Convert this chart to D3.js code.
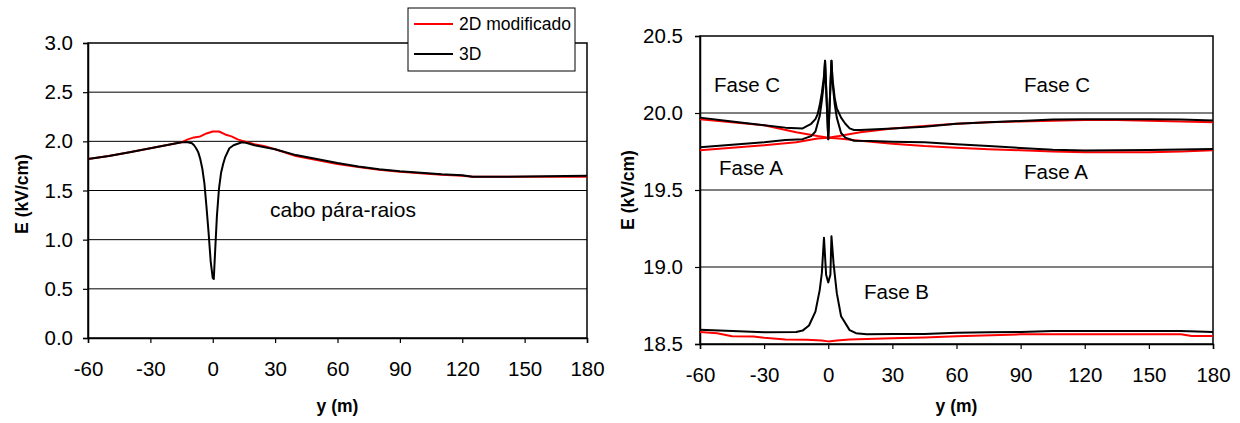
<!DOCTYPE html>
<html><head><meta charset="utf-8">
<script src="https://cdn.jsdelivr.net/npm/d3@7"></script>
<style>
html,body{margin:0;padding:0;background:#fff;}
svg text{font-family:"Liberation Sans",Arial,sans-serif;fill:#000;}
</style></head>
<body><svg id="chart" width="1240" height="423"></svg>
<script>
// ---------- data ----------
const xTicks = [-60,-30,0,30,60,90,120,150,180];
const leftYTicks = [0,0.5,1,1.5,2,2.5,3];
const rightYTicks = [18.5,19,19.5,20,20.5];
const seriesNames = ["2D modificado","3D"];

// Left chart: cabo pára-raios
const left2dX = [-60,-50,-40,-30,-20,-15,-12,-9,-6,-3,0,3,6,9,12,15,20,25,30,40,50,60,70,80,90,100,110,120,125,140,160,180];
const left2dE = [1.82,1.85,1.89,1.93,1.97,1.99,2.02,2.04,2.05,2.08,2.10,2.10,2.07,2.05,2.02,2.00,1.97,1.95,1.92,1.85,1.81,1.77,1.74,1.71,1.69,1.675,1.66,1.65,1.64,1.64,1.64,1.64];
const left3dX = [-60,-50,-40,-30,-20,-15,-12,-10,-9,-8,-7,-6,-5,-4,-3,-2,-1,0,0.5,1,2,3,4,5,6,8,10,14,16,20,25,30,40,50,60,70,80,90,100,110,120,125,140,160,180];
const left3dE = [1.82,1.85,1.89,1.93,1.97,1.99,1.99,1.98,1.96,1.93,1.89,1.82,1.72,1.57,1.33,1.07,0.78,0.61,0.60,0.82,1.24,1.52,1.68,1.77,1.84,1.93,1.96,1.99,1.985,1.96,1.94,1.92,1.86,1.82,1.78,1.745,1.715,1.695,1.68,1.665,1.655,1.64,1.64,1.645,1.65];

// Right chart: phases
const faseC2dX = [-60,-45,-30,-15,-5,0,5,15,30,45,60,75,90,105,120,135,150,165,180];
const faseC2dE = [19.96,19.94,19.92,19.875,19.85,19.84,19.85,19.875,19.90,19.915,19.93,19.94,19.945,19.95,19.955,19.955,19.95,19.945,19.94];
const faseA2dX = [-60,-45,-30,-15,-5,0,5,15,30,45,60,75,90,105,120,135,150,165,180];
const faseA2dE = [19.758,19.775,19.79,19.81,19.835,19.84,19.835,19.82,19.80,19.785,19.775,19.765,19.758,19.75,19.745,19.745,19.745,19.75,19.758];
const faseB2dX = [-60,-52,-45,-35,-30,-20,-10,-3,0,4,10,30,45,60,90,120,165,170,180];
const faseB2dE = [18.578,18.57,18.55,18.548,18.54,18.53,18.528,18.522,18.517,18.522,18.53,18.537,18.543,18.55,18.563,18.563,18.563,18.552,18.552];

const faseC3dX = [-60,-45,-30,-20,-12,-8,-6,-5,-4,-3,-2,-1.5,0,1.5,2,3,4,6,8,10,12,15,30,45,60,75,90,105,120,150,165,180];
const faseC3dE = [19.97,19.945,19.92,19.905,19.90,19.93,19.96,19.99,20.05,20.13,20.24,20.34,19.83,20.34,20.22,20.10,20.03,19.97,19.93,19.90,19.89,19.89,19.90,19.91,19.93,19.94,19.948,19.957,19.96,19.96,19.957,19.952];
const faseA3dX = [-60,-45,-30,-20,-12,-8,-6,-4,-3,-2,-1.5,0,1.5,2,3,4,6,8,12,20,30,45,60,75,90,105,120,150,180];
const faseA3dE = [19.777,19.794,19.81,19.825,19.83,19.85,19.88,19.98,20.08,20.20,20.34,19.83,20.34,20.20,20.06,19.97,19.87,19.84,19.82,19.818,19.814,19.81,19.797,19.785,19.773,19.762,19.757,19.759,19.767];
const faseB3dX = [-60,-45,-30,-15,-12,-9,-6,-4,-3,-2,-1,0,1,1.5,2.5,4,6,10,13,18,30,45,60,75,90,105,120,150,165,180];
const faseB3dE = [18.593,18.585,18.577,18.578,18.587,18.62,18.71,18.85,18.96,19.19,18.95,18.90,18.95,19.20,19.02,18.83,18.68,18.59,18.57,18.563,18.565,18.565,18.573,18.576,18.578,18.584,18.584,18.584,18.584,18.578];

// ---------- drawing ----------
const svg = d3.select("#chart");
const RED = "#ff0000", BLACK = "#000000";

function panel(cfg){
  const x = d3.scaleLinear().domain([-60,180]).range([cfg.x0, cfg.x1]);
  const y = d3.scaleLinear().domain(cfg.yDomain).range([cfg.yb, cfg.yt]);
  const g = svg.append("g");
  // gridlines
  g.append("g").selectAll("line").data(cfg.yTicks.slice(1,-1)).join("line")
    .attr("x1", cfg.x0).attr("x2", cfg.x1)
    .attr("y1", d=>y(d)).attr("y2", d=>y(d))
    .attr("stroke", "#000").attr("stroke-width", 1);
  // frame
  g.append("rect").attr("x", cfg.x0).attr("y", cfg.yt)
    .attr("width", cfg.x1-cfg.x0).attr("height", cfg.yb-cfg.yt)
    .attr("fill","none").attr("stroke","#000").attr("stroke-width",1.5);
  // axes
  const xa = g.append("g").attr("transform",`translate(0,${cfg.yb})`)
    .call(d3.axisBottom(x).tickValues(xTicks).tickSize(5).tickPadding(18).tickFormat(d=>String(d)));
  const ya = g.append("g").attr("transform",`translate(${cfg.x0},0)`)
    .call(d3.axisLeft(y).tickValues(cfg.yTicks).tickSize(5).tickPadding(cfg.yPad).tickFormat(d3.format(".1f")));
  [xa,ya].forEach(a=>{
    a.select(".domain").attr("stroke","#000").attr("stroke-width",1.5);
    a.selectAll(".tick line").attr("stroke","#000").attr("stroke-width",1.2);
    a.selectAll(".tick text").attr("font-size",20.5).attr("font-family","Liberation Sans, Arial, sans-serif").attr("fill","#000");
  });
  // series
  const line = d3.line().x(d=>x(d[0])).y(d=>y(d[1]));
  cfg.series.forEach(s=>{
    const pts = s.x.map((v,i)=>[v, s.e[i]]);
    g.append("path").datum(pts).attr("d", line)
      .attr("fill","none").attr("stroke", s.color).attr("stroke-width", s.w)
      .attr("stroke-linejoin","round");
  });
  // axis titles
  g.append("text").attr("x",(cfg.x0+cfg.x1)/2).attr("y",cfg.xTitleY)
    .attr("text-anchor","middle").attr("font-size",17.5).attr("font-weight","bold").text("y (m)");
  g.append("text").attr("transform",`translate(${cfg.yTitleX},${cfg.yTitleY}) rotate(-90)`)
    .attr("text-anchor","middle").attr("font-size",17.5).attr("font-weight","bold").text("E (kV/cm)");
  return {x,y,g};
}

const L = panel({x0:88, x1:587, yt:43, yb:338, yDomain:[0,3], yTicks:leftYTicks,
  xTitleY:412, yTitleX:28, yTitleY:194, yPad:10,
  series:[
    {x:left2dX, e:left2dE, color:RED, w:2},
    {x:left3dX, e:left3dE, color:BLACK, w:2}
  ]});
L.g.append("text").attr("x",270).attr("y",217).attr("font-size",21).text("cabo pára-raios");

const R = panel({x0:700, x1:1213, yt:36, yb:344, yDomain:[18.5,20.5], yTicks:rightYTicks,
  xTitleY:412, yTitleX:634, yTitleY:190, yPad:12,
  series:[
    {x:faseC2dX, e:faseC2dE, color:RED, w:2},
    {x:faseA2dX, e:faseA2dE, color:RED, w:2},
    {x:faseB2dX, e:faseB2dE, color:RED, w:2},
    {x:faseC3dX, e:faseC3dE, color:BLACK, w:2},
    {x:faseA3dX, e:faseA3dE, color:BLACK, w:2},
    {x:faseB3dX, e:faseB3dE, color:BLACK, w:2}
  ]});
const labels = [["Fase C",714,92],["Fase C",1024,92],["Fase A",719,175],["Fase A",1024,179],["Fase B",864,299]];
R.g.selectAll("text.lab").data(labels).join("text").attr("class","lab")
  .attr("x",d=>d[1]).attr("y",d=>d[2]).attr("font-size",20.5).text(d=>d[0]);

// legend
const lg = svg.append("g").attr("transform","translate(408,8)");
lg.append("rect").attr("width",167).attr("height",63).attr("fill","#fff").attr("stroke","#000").attr("stroke-width",1);
[[RED,0],[BLACK,1]].forEach(([c,i])=>{
  const yy = 16 + i*30;
  lg.append("line").attr("x1",6).attr("x2",45).attr("y1",yy).attr("y2",yy).attr("stroke",c).attr("stroke-width",2);
  lg.append("text").attr("x",51).attr("y",yy+6).attr("font-size",17.5).text(seriesNames[i]);
});
</script></body></html>
